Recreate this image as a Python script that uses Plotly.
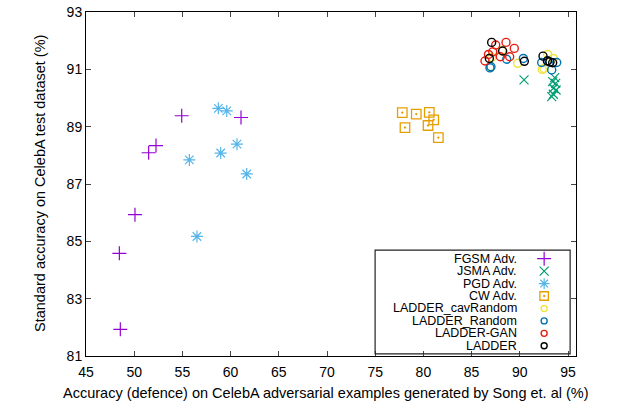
import plotly.graph_objects as go

# ---------------- data ----------------
fgsm_x = [54.93, 61.08, 52.26, 51.50, 50.08, 48.46, 48.56]
fgsm_y = [89.38, 89.32, 88.34, 88.09, 85.93, 84.58, 81.93]

jsma_x = [90.44, 93.62, 93.41, 93.72, 93.48, 93.76, 93.48, 93.31]
jsma_y = [90.63, 90.71, 90.57, 90.51, 90.34, 90.28, 90.13, 90.05]

pgd_x = [58.73, 59.60, 60.66, 58.97, 55.72, 61.67, 56.51]
pgd_y = [89.64, 89.55, 88.39, 88.08, 87.84, 87.35, 85.17]

cw_x = [77.81, 79.26, 80.61, 81.07, 80.48, 78.09, 81.55]
cw_y = [89.49, 89.44, 89.50, 89.24, 89.04, 88.97, 88.62]

cav_x = [88.12, 89.78, 92.89, 92.33, 86.91, 93.48, 87.08, 92.50]
cav_y = [91.65, 91.21, 91.52, 91.00, 91.09, 91.38, 91.42, 91.03]

rand_x = [87.01, 86.91, 88.64, 90.37, 92.27, 93.83, 93.31, 92.90]
rand_y = [91.09, 91.05, 91.35, 91.38, 91.24, 91.24, 90.98, 91.30]

gan_x = [88.57, 87.50, 89.43, 87.19, 87.98, 88.95, 86.39, 86.75]
gan_y = [91.94, 91.85, 91.73, 91.61, 91.44, 91.44, 91.29, 91.52]

ladder_x = [87.08, 88.22, 86.84, 90.47, 92.41, 92.86, 93.13, 93.41]
ladder_y = [91.94, 91.64, 91.38, 91.28, 91.46, 91.29, 91.26, 91.23]

x_ticks = [45, 50, 55, 60, 65, 70, 75, 80, 85, 90, 95]
y_ticks = [81, 83, 85, 87, 89, 91, 93]

series_names = ["FGSM Adv.", "JSMA Adv.", "PGD Adv.", "CW Adv.",
                "LADDER_cavRandom", "LADDER_Random", "LADDER-GAN", "LADDER"]

x_title = "Accuracy (defence) on CelebA adversarial examples generated by Song et. al (%)"
y_title = "Standard accuracy on CelebA test dataset (%)"

# ---------------- styles ----------------
FONT = "Liberation Sans, Arial, Helvetica, sans-serif"
styles = [
    dict(symbol="cross-thin", size=10, leg=10, color="#9400D3", lw=1.2),
    dict(symbol="x-thin", size=9, leg=9, color="#009E73", lw=1.2),
    dict(symbol="asterisk", size=10, leg=9, color="#56B4E9", lw=1.2),
    dict(symbol="square-open-dot", size=9.5, leg=8.5, color="#E69F00", lw=1.3),
    dict(symbol="circle-open", size=8, leg=6, color="#F0E442", lw=1.4),
    dict(symbol="circle-open", size=8, leg=6, color="#0072B2", lw=1.4),
    dict(symbol="circle-open", size=8, leg=6, color="#E51E10", lw=1.4),
    dict(symbol="circle-open", size=8, leg=6, color="#000000", lw=1.4),
]
data = [(fgsm_x, fgsm_y), (jsma_x, jsma_y), (pgd_x, pgd_y), (cw_x, cw_y),
        (cav_x, cav_y), (rand_x, rand_y), (gan_x, gan_y), (ladder_x, ladder_y)]

fig = go.Figure()
for name, (xs, ys), st in zip(series_names, data, styles):
    fig.add_trace(go.Scatter(
        x=xs, y=ys, mode="markers", name=name, showlegend=False,
        marker=dict(symbol=st["symbol"], size=st["size"], color=st["color"],
                    line=dict(color=st["color"], width=st["lw"])),
    ))

# ---------------- custom legend (gnuplot style: text left, key right) ----------------
leg_top = 0.283
leg_step = 0.0362
leg_key_x = 0.935
leg_text_x = 0.882
for i, (name, st) in enumerate(zip(series_names, styles)):
    yy = leg_top - i * leg_step
    fig.add_trace(go.Scatter(
        x=[leg_key_x], y=[yy], xaxis="x2", yaxis="y2", mode="markers",
        showlegend=False, hoverinfo="skip",
        marker=dict(symbol=st["symbol"], size=st["leg"], color=st["color"],
                    line=dict(color=st["color"], width=st["lw"])),
    ))
    fig.add_annotation(x=leg_text_x, y=yy, xref="paper", yref="paper",
                       text=name, showarrow=False, xanchor="right",
                       yanchor="middle", borderpad=0,
                       font=dict(family=FONT, size=12.5, color="black"))

fig.add_shape(type="rect", xref="paper", yref="paper",
              x0=0.59, x1=0.988, y0=0.006, y1=0.308,
              line=dict(color="#222222", width=1.2), fillcolor="rgba(0,0,0,0)")

# axis titles as annotations so the plot area keeps its fixed margins
fig.add_annotation(x=0.49, y=0, xref="paper", yref="paper", text=x_title,
                   showarrow=False, xanchor="center", yanchor="middle", yshift=-37,
                   font=dict(family=FONT, size=14.5, color="black"))
fig.add_annotation(x=0, y=0.5, xref="paper", yref="paper", text=y_title,
                   showarrow=False, xanchor="center", yanchor="middle", xshift=-46,
                   textangle=-90, font=dict(family=FONT, size=14.5, color="black"))

fig.update_layout(
    width=619, height=407,
    margin=dict(l=86, r=43, t=12, b=51),
    paper_bgcolor="white", plot_bgcolor="white",
    font=dict(family=FONT, size=14, color="black"),
    xaxis=dict(range=[45, 95.83], tickvals=x_ticks, ticks="inside", ticklen=5,
               showline=True, linecolor="black", linewidth=1, mirror="ticks",
               showgrid=False, zeroline=False, automargin=False,
               ticklabeloverflow="allow", ticklabelstandoff=3,
               tickfont=dict(family=FONT, size=14)),
    yaxis=dict(range=[81, 93], tickvals=y_ticks, ticks="inside", ticklen=5,
               showline=True, linecolor="black", linewidth=1, mirror="ticks",
               showgrid=False, zeroline=False, automargin=False,
               ticklabeloverflow="allow",
               tickfont=dict(family=FONT, size=14)),
    xaxis2=dict(overlaying="x", range=[0, 1], visible=False, fixedrange=True),
    yaxis2=dict(overlaying="y", range=[0, 1], visible=False, fixedrange=True),
    showlegend=False,
)

# remove the default page margin so the figure sits at the window's top-left corner
fig.write_html("out.html", config={"displayModeBar": False},
               post_script="document.body.style.margin='0';")
